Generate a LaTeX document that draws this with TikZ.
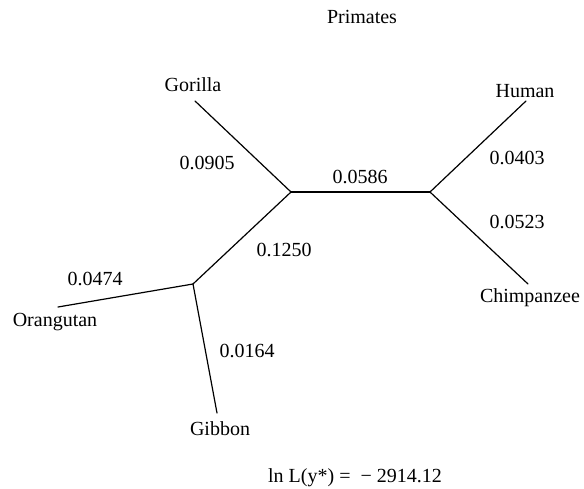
\documentclass[tikz,border=0pt]{standalone}
\usepackage{fontspec}
\setmainfont{Liberation Serif}
\begin{document}
\begin{tikzpicture}[x=1bp,y=-1bp,
  branch/.style={line width=1.2bp, line cap=round},
  lbl/.style={inner sep=0pt, font=\fontsize{20bp}{24bp}\selectfont},
]
\useasboundingbox (0,0) rectangle (584,489);
% internal vertices
\coordinate (A) at (291,192);
\coordinate (C) at (430,192);
\coordinate (B) at (193,284);
% leaf ends
\coordinate (gor) at (195,101);
\coordinate (hum) at (526,101);
\coordinate (chi) at (528,284);
\coordinate (ora) at (58,307);
\coordinate (gib) at (217,413);
% branches
\draw[branch] (A) -- (gor);
\draw[branch] (A) -- (C);
\draw[branch] (C) -- (hum);
\draw[branch] (C) -- (chi);
\draw[branch] (A) -- (B);
\draw[branch] (B) -- (ora);
\draw[branch] (B) -- (gib);
% leaf names
\node[lbl] (tgor) at (193,85) {Gorilla};
\node[lbl] (thum) at (525,91) {Human};
\node[lbl] (tchi) at (530,298) {Chimpanzee};
\node[lbl] (tora) at (55,322) {Orangutan};
\node[lbl] (tgib) at (220,429) {Gibbon};
% branch lengths
\node[lbl] (l1) at (207,163) {0.0905};
\node[lbl] (l2) at (284,250) {0.1250};
\node[lbl] (l3) at (95,279) {0.0474};
\node[lbl] (l4) at (360,177) {0.0586};
\node[lbl] (l5) at (517,158) {0.0403};
\node[lbl] (l6) at (517,222) {0.0523};
\node[lbl] (l7) at (247,351) {0.0164};
% title and likelihood
\node[lbl, anchor=base] (title) at (362,24) {Primates};
\node[lbl, anchor=base] (lik) at (355,482) {ln L(y*) = \ − 2914.12};
\end{tikzpicture}
\end{document}
